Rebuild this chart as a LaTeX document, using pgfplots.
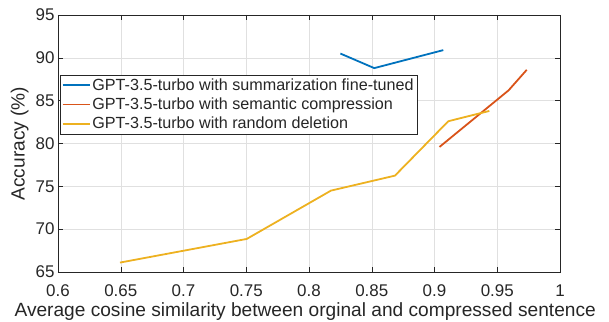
\documentclass[border=0pt]{standalone}
\usepackage{pgfplots}
\pgfplotsset{compat=1.18}
\usepackage{fontspec}
\setmainfont{Liberation Sans}
\definecolor{mblue}{rgb}{0,0.447,0.741}
\definecolor{mred}{rgb}{0.85,0.325,0.098}
\definecolor{myellow}{rgb}{0.929,0.694,0.125}
\definecolor{axgray}{rgb}{0.15,0.15,0.15}
\begin{document}
\begin{tikzpicture}
\begin{axis}[
  scale only axis, width=502bp, height=257bp,
  xmin=0.6, xmax=1, ymin=65, ymax=95,
  xtick={0.6,0.65,0.7,0.75,0.8,0.85,0.9,0.95,1},
  xticklabels={0.6,0.65,0.7,0.75,0.8,0.85,0.9,0.95,1},
  ytick={65,70,75,80,85,90,95},
  /pgf/number format/assume math mode=true,
  grid=major, grid style={black!12, line width=0.5pt},
  tick align=inside, major tick length=5bp,
  axis line style={axgray, line width=0.6pt},
  tick style={axgray, line width=0.5pt},
  ticklabel style={font=\fontsize{17}{17}\selectfont, text=axgray},
  xticklabel style={anchor=center, yshift=-19bp},
  label style={font=\fontsize{19.2}{19.2}\selectfont, text=axgray},
  xlabel={Average cosine similarity between orginal and compressed sentence},
  ylabel={Accuracy (\%)},
  ylabel style={at={(axis description cs:-0.0765,0.5)}, anchor=center},
  xlabel style={at={(axis description cs:0.4925,0)}, anchor=center, yshift=-40bp},
  legend style={font=\fontsize{16.2}{16.2}\selectfont, draw=axgray, at={(0.004,0.767)}, anchor=north west, inner sep=1.5pt, row sep=2.2pt, text=axgray},
  legend cell align=left,
  legend image code/.code={\draw[#1, line width=1.8pt] (0cm,0cm) -- (0.95cm,0cm);},
]
\coordinate (ll) at (rel axis cs:0,0);
\coordinate (ur) at (rel axis cs:1,1);
\addplot[mblue, line width=1.8pt] coordinates {(0.825,90.5) (0.852,88.8) (0.907,90.9)};
\addlegendentry{GPT-3.5-turbo with summarization fine-tuned}
\addplot[mred, line width=1.8pt] coordinates {(0.904,79.6) (0.959,86.2) (0.9735,88.6)};
\addlegendentry{GPT-3.5-turbo with semantic compression}
\addplot[myellow, line width=1.8pt] coordinates {(0.6494,66.1) (0.7504,68.86) (0.8175,74.5) (0.8685,76.25) (0.911,82.6) (0.9437,83.8)};
\addlegendentry{GPT-3.5-turbo with random deletion}
\end{axis}
\pgfresetboundingbox
\path[use as bounding box] ([shift={(-58bp,-50bp)}]ll) rectangle ([shift={(49bp,15bp)}]ur);
\end{tikzpicture}
\end{document}
